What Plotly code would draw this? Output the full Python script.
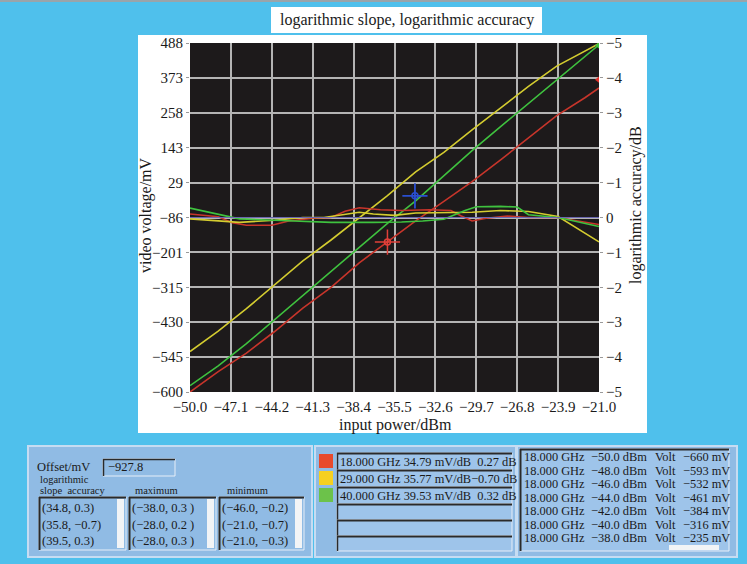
import plotly.graph_objects as go

# ---------------- data ----------------
power_dbm = [-50, -48, -46, -44, -42, -40, -38, -36, -34, -32, -30, -28, -26, -24, -22, -21]
volt_18ghz = [-660, -593, -532, -461, -384, -316, -235, -165, -97, -33, 32, 103, 175, 249, 308, 340]
volt_29ghz = [-527, -460, -386, -307, -229, -160, -88, -14, 64, 128, 202, 275, 345, 412, 463, 486]
volt_40ghz = [-639, -574, -501, -422, -343, -264, -185, -105, -31, 52, 134, 212, 289, 369, 445, 482]

acc_x_18 = [-50, -48, -47, -46, -44.2, -43, -41.3, -40, -39, -38, -36.5, -35, -33, -31.5, -30.8, -30, -29, -27.5, -26, -23.9, -22.5, -21]
acc_18 = [0.1, 0.02, -0.15, -0.22, -0.22, -0.1, -0.02, 0.0, 0.18, 0.28, 0.22, 0.2, 0.22, 0.2, 0.05, -0.1, -0.02, 0.04, 0.0, 0.0, -0.1, -0.2]
acc_x_29 = [-50, -48, -46.5, -44, -42, -40.5, -39, -38, -37, -35.5, -34, -32, -30, -28, -26, -23.9, -21]
acc_29 = [-0.04, -0.1, -0.14, -0.08, 0.0, 0.0, 0.1, 0.15, 0.1, 0.06, 0.13, 0.15, 0.15, 0.2, 0.17, 0.03, -0.7]
acc_x_40 = [-50, -48, -46.5, -44, -41.3, -40, -37, -35, -33.5, -32, -30.5, -29.7, -28, -26.8, -26, -23.9, -21]
acc_40 = [0.27, 0.1, -0.04, -0.08, -0.11, -0.14, -0.14, -0.13, -0.1, -0.05, 0.2, 0.31, 0.32, 0.3, 0.08, 0.0, -0.26]

x_ticks = [-50.0, -47.1, -44.2, -41.3, -38.4, -35.5, -32.6, -29.7, -26.8, -23.9, -21.0]
x_ticktext = ["−50.0", "−47.1", "−44.2", "−41.3", "−38.4", "−35.5", "−32.6", "−29.7", "−26.8", "−23.9", "−21.0"]
y_ticks = [488 - 114.8 * i for i in range(11)]
y_ticktext = ["488", "373", "258", "143", "29", "−86", "−201", "−315", "−430", "−545", "−600"]
y2_ticks = [-5, -4, -3, -2, -1, 0, 1, 2, 3, 4, 5]
y2_ticktext = ["−5", "−4", "−3", "−2", "−1", "0", "−1", "−2", "−3", "−4", "−5"]

series_names = ["18 GHz", "29 GHz", "40 GHz"]
line_colors = ["#c8352b", "#d4cc30", "#3fc23f"]

legend_rows = ["18.000 GHz 34.79 mV/dB  0.27 dB", "29.000 GHz 35.77 mV/dB−0.70 dB", "40.000 GHz 39.53 mV/dB  0.32 dB"]
swatch_colors = ["#e84a2c", "#f6d020", "#6cc24a"]
slope_acc = ["(34.8, 0.3)", "(35.8, −0.7)", "(39.5, 0.3)"]
max_list = ["(−38.0, 0.3 )", "(−28.0, 0.2 )", "(−28.0, 0.3 )"]
min_list = ["(−46.0, −0.2)", "(−21.0, −0.7)", "(−21.0, −0.3)"]
table_power = ["−50.0 dBm", "−48.0 dBm", "−46.0 dBm", "−44.0 dBm", "−42.0 dBm", "−40.0 dBm", "−38.0 dBm"]
table_volt = ["−660 mV", "−593 mV", "−532 mV", "−461 mV", "−384 mV", "−316 mV", "−235 mV"]

# ---------------- geometry helpers ----------------
L, R, T, B = 190, 599, 43, 392
W, H = 747, 564


def px(x):
    return (x - L) / (R - L)


def py(y):
    return (B - y) / (B - T)


SERIF = "Liberation Serif, Times New Roman, serif"
BG = "#4fc0ec"
PANEL = "#90bbe4"

fig = go.Figure()

# accuracy traces (right axis)
for xs, ys, c in zip([acc_x_18, acc_x_29, acc_x_40], [acc_18, acc_29, acc_40], line_colors):
    fig.add_trace(go.Scatter(x=xs, y=ys, yaxis="y2", mode="lines",
                             line=dict(color=c, width=1.6), showlegend=False))
# reference line at 0 dB
fig.add_trace(go.Scatter(x=[-50, -21], y=[0, 0], yaxis="y2", mode="lines",
                         line=dict(color="#6a66b0", width=1.2), showlegend=False))
# voltage traces (left axis)
for ys, c in zip([volt_18ghz, volt_29ghz, volt_40ghz], line_colors):
    fig.add_trace(go.Scatter(x=power_dbm, y=ys, mode="lines",
                             line=dict(color=c, width=1.6), showlegend=False))

# cursors
RED_C, BLUE_C = "#e0403a", "#2a4fd0"
fig.add_trace(go.Scatter(x=[-36.0], y=[-167], mode="markers", showlegend=False,
                         marker=dict(symbol="cross-thin-open", size=18, color=RED_C,
                                     line=dict(color=RED_C, width=1.5))))
fig.add_trace(go.Scatter(x=[-36.0], y=[-167], mode="markers", showlegend=False,
                         marker=dict(symbol="circle-open", size=6, color=RED_C,
                                     line=dict(color=RED_C, width=1.5))))
fig.add_trace(go.Scatter(x=[-34.05], y=[0.62], yaxis="y2", mode="markers", showlegend=False,
                         marker=dict(symbol="cross-thin-open", size=18, color=BLUE_C,
                                     line=dict(color=BLUE_C, width=1.8))))
fig.add_trace(go.Scatter(x=[-34.05], y=[0.62], yaxis="y2", mode="markers", showlegend=False,
                         marker=dict(symbol="circle-open", size=6, color=BLUE_C,
                                     line=dict(color=BLUE_C, width=1.5))))
fig.add_trace(go.Scatter(x=[-21.0], y=[3.95], yaxis="y2", mode="markers", showlegend=False,
                         marker=dict(symbol="triangle-left", size=8, color="#e0302a")))
fig.add_trace(go.Scatter(x=[-21.0], y=[4.93], yaxis="y2", mode="markers", showlegend=False,
                         marker=dict(symbol="triangle-left", size=8, color="#3fc23f")))

shapes = []
annotations = []


def rect(x0, y0, x1, y1, fill, line="rgba(0,0,0,0)", lw=0):
    shapes.append(dict(type="rect", xref="paper", yref="paper", layer="below",
                       x0=px(x0), x1=px(x1), y0=py(y1), y1=py(y0),
                       fillcolor=fill, line=dict(color=line, width=lw)))


def hline(x0, x1, y, color, lw=1.5):
    shapes.append(dict(type="line", xref="paper", yref="paper", layer="below",
                       x0=px(x0), x1=px(x1), y0=py(y), y1=py(y), line=dict(color=color, width=lw)))


def vline(x, y0, y1, color, lw=1.5):
    shapes.append(dict(type="line", xref="paper", yref="paper", layer="below",
                       x0=px(x), x1=px(x), y0=py(y0), y1=py(y1), line=dict(color=color, width=lw)))


def text(x, y, s, size=14, anchor="left", angle=0, color="#1a1a1a"):
    annotations.append(dict(x=px(x), y=py(y), xref="paper", yref="paper", text=s,
                            showarrow=False, xanchor=anchor, yanchor="middle", textangle=angle,
                            font=dict(family=SERIF, size=size, color=color)))


# top border line
hline(0, W, 1, "#9aa4aa", 2)
# white chart panel and black plot area
rect(138, 35, 647, 433, "white")
rect(L, T, R, B, "#1d1a1b")
# title box
rect(271, 7, 542, 33, "white")
text(406.5, 20, "logarithmic slope, logarithmic accuracy", 16, "center")

# axis titles
text(146, 215, "video voltage/mV", 16, "center", -90)
text(636, 205, "logarithmic accuracy/dB", 16, "center", -90)
text(395, 425, "input power/dBm", 16, "center")

# ---------- bottom panel 1 ----------
rect(28, 446, 312, 557, PANEL, "#c6dcf2", 2)
text(35, 467, "Offset/mV", 12.5)
rect(103, 459, 175, 476, PANEL, "#e6eef8", 1)
hline(103, 175, 459.5, "#2a2a2a", 1.5)
vline(103.5, 459, 476, "#2a2a2a", 1.5)
text(106, 467, "−927.8", 12.5)
text(38, 479.5, "logarithmic", 10.5)
text(38, 490.5, "slope  accuracy", 10.5)
text(156, 490.5, "maximum", 10.5, "center")
text(247, 490.5, "minimum", 10.5, "center")
for bx0, bx1, items in [(39, 126, slope_acc), (129, 216, max_list), (219, 304, min_list)]:
    rect(bx0, 497, bx1, 550, PANEL, "#e6eef8", 1)
    hline(bx0, bx1, 497.5, "#2a2a2a", 2)
    vline(bx0 + 0.5, 497, 550, "#2a2a2a", 2)
    rect(bx1 - 9, 499, bx1 - 2, 548, "#f2f4f6")
    for i, s in enumerate(items):
        text(bx0 + 1, 508 + 16.5 * i, s, 12.5)

# ---------- bottom panel 2 ----------
rect(315, 446, 516, 557, PANEL, "#c6dcf2", 2)
for i, c in enumerate(swatch_colors):
    rect(319, 454 + 17 * i, 333, 468 + 17 * i, c)
row_edges = [453, 470, 487, 504, 520, 536, 551]
for i in range(6):
    rect(337, row_edges[i], 512, row_edges[i + 1], "#9ec4ea", "#e6eef8", 1)
    hline(337, 512, row_edges[i] + 0.5, "#2a2a2a", 2)
    vline(337.5, row_edges[i], row_edges[i + 1], "#2a2a2a", 1.5)
for i, s in enumerate(legend_rows):
    text(338, 462 + 16.8 * i, s, 12.4)

# ---------- bottom panel 3 ----------
rect(517, 446, 737, 557, PANEL, "#c6dcf2", 2)
rect(520, 449, 729, 551, "#9ec4ea", "#e6eef8", 1)
hline(520, 729, 449.5, "#2a2a2a", 2)
vline(520.5, 449, 551, "#2a2a2a", 2)
rect(669, 545, 719, 550, "#f2f4f6")
for i in range(7):
    yy = 457 + 13.5 * i
    text(521.5, yy, "18.000 GHz", 12.4)
    text(589, yy, table_power[i], 12.4)
    text(653, yy, "Volt", 12.4)
    text(681, yy, table_volt[i], 12.4)

axis_font = dict(family=SERIF, size=15, color="#1a1a1a")

fig.update_layout(
    width=W, height=H, autosize=False,
    margin=dict(l=L, r=W - R, t=T, b=H - B, pad=0),
    paper_bgcolor=BG, plot_bgcolor="#1d1a1b",
    showlegend=False,
    shapes=shapes, annotations=annotations,
    xaxis=dict(range=[-50, -21], tickvals=x_ticks, ticktext=x_ticktext, tickfont=axis_font,
               showgrid=True, gridcolor="#b4b4b4", gridwidth=1.6, zeroline=False,
               ticks="outside", ticklen=1, tickcolor="rgba(0,0,0,0)", showline=False, automargin=False),
    yaxis=dict(range=[-660, 488], tickvals=y_ticks, ticktext=y_ticktext, tickfont=axis_font,
               showgrid=True, gridcolor="#b4b4b4", gridwidth=1.6, zeroline=False,
               ticks="outside", ticklen=3, tickcolor="#9a9a9a", showline=False, automargin=False),
    yaxis2=dict(range=[-5, 5], tickvals=y2_ticks, ticktext=y2_ticktext[::-1], tickfont=axis_font,
                overlaying="y", side="right", showgrid=False, zeroline=False,
                ticks="outside", ticklen=3, tickcolor="#9a9a9a", showline=False, automargin=False),
)

fig.write_html("out.html")
